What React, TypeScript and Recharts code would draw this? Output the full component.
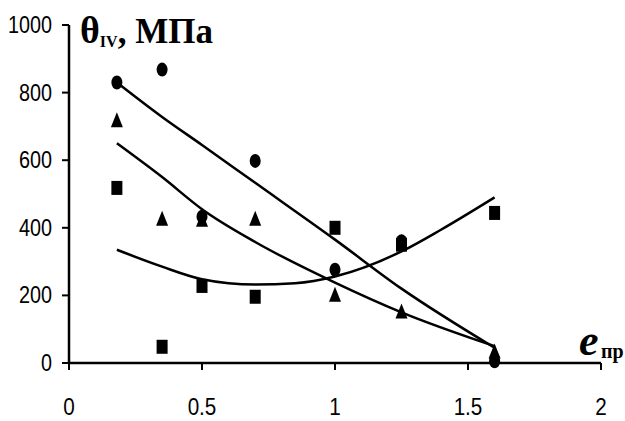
import { ComposedChart, Line, Scatter, XAxis, YAxis } from 'recharts';

// measured points, shared x positions
const pointX = [0.18, 0.35, 0.5, 0.7, 1.0, 1.25, 1.6];
const circleVals = [830, 868, 433, 598, 276, 360, 5];
const triangleVals = [718, 427, 424, 427, 202, 152, 34];
const squareVals = [518, 48, 228, 196, 400, 350, 444];

// trend lines
const circleTrendX = [0.18, 0.35, 0.5, 0.7, 1.0, 1.25, 1.6];
const circleTrendY = [830, 728, 645, 533, 365, 220, 45];
const triangleTrendX = [0.18, 0.35, 0.5, 0.7, 1.0, 1.25, 1.6];
const triangleTrendY = [650, 550, 455, 358, 238, 150, 50];
const squareTrendX = [0.18, 0.35, 0.5, 0.7, 0.85, 1.0, 1.25, 1.4, 1.6];
const squareTrendY = [335, 285, 248, 232, 236, 256, 330, 395, 490];

const xTicks = [0, 0.5, 1, 1.5, 2];
const yTicks = [0, 200, 400, 600, 800, 1000];

const toPoints = (xs: number[], ys: number[]) => xs.map((x, i) => ({ x, y: ys[i] }));

// no narrow font installed, so squeeze Liberation Sans to look like Arial Narrow
const narrowWidth = (s: string, digit: number) =>
  s.split('').reduce((w, c) => w + (c === '.' ? digit * 0.5 : digit), 0);

const narrowText = (x: number, y: number, label: string, anchor: string, fs: number, digit: number) => (
  <text
    x={x}
    y={y}
    textAnchor={anchor}
    fontSize={fs}
    fontFamily="'Liberation Sans', Arial, sans-serif"
    fill="#000"
    textLength={narrowWidth(label, digit)}
    lengthAdjust="spacingAndGlyphs"
  >
    {label}
  </text>
);

const XTick = ({ x, payload }: any) => narrowText(x, 415, String(payload.value), 'middle', 23, 11.5);
const YTick = ({ x, y, payload }: any) => narrowText(x, y + 8, String(payload.value), 'end', 24, 11);

const CircleDot = ({ cx, cy }: any) => <ellipse cx={cx} cy={cy} rx={5.5} ry={7} fill="#000" />;
const TriangleDot = ({ cx, cy }: any) => (
  <path d={`M${cx},${cy - 8} L${cx + 6},${cy + 7} L${cx - 6},${cy + 7} Z`} fill="#000" />
);
const SquareDot = ({ cx, cy }: any) => <rect x={cx - 5.5} y={cy - 7} width={11} height={14} fill="#000" />;

export default function App() {
  const line = { type: 'monotone' as const, dataKey: 'y', stroke: '#000', strokeWidth: 2.5, dot: false, isAnimationActive: false };
  return (
    <div style={{ position: 'absolute', left: 0, top: 0, background: '#fff' }}>
      <ComposedChart width={625} height={421} margin={{ top: 25, right: 24, left: 0, bottom: 0 }}>
        <XAxis
          type="number"
          dataKey="x"
          domain={[0, 2]}
          ticks={xTicks}
          height={58}
          tick={XTick}
          tickSize={7}
          axisLine={{ stroke: '#000', strokeWidth: 2.5 }}
          tickLine={{ stroke: '#000', strokeWidth: 2 }}
        />
        <YAxis
          type="number"
          domain={[0, 1000]}
          ticks={yTicks}
          width={69}
          tick={YTick}
          tickSize={7}
          tickMargin={10}
          axisLine={{ stroke: '#000', strokeWidth: 2.5 }}
          tickLine={{ stroke: '#000', strokeWidth: 2 }}
        />
        <Line {...line} data={toPoints(circleTrendX, circleTrendY)} />
        <Line {...line} data={toPoints(triangleTrendX, triangleTrendY)} />
        <Line {...line} data={toPoints(squareTrendX, squareTrendY)} />
        <Scatter data={toPoints(pointX, squareVals)} dataKey="y" shape={SquareDot} isAnimationActive={false} />
        <Scatter data={toPoints(pointX, triangleVals)} dataKey="y" shape={TriangleDot} isAnimationActive={false} />
        <Scatter data={toPoints(pointX, circleVals)} dataKey="y" shape={CircleDot} isAnimationActive={false} />
        <text x={80} y={43} fontFamily="'Liberation Serif', serif" fontWeight="bold" fontSize={35} fill="#000">
          <tspan fontSize={38}>θ</tspan>
          <tspan fontSize={16} dy={4}>IV</tspan>
          <tspan dy={-4}>, МПа</tspan>
        </text>
        <text x={579} y={355} fontFamily="'Liberation Serif', serif" fontStyle="italic" fontWeight="bold" fontSize={44} fill="#000">
          e
        </text>
        <text x={601} y={358} fontFamily="'Liberation Serif', serif" fontWeight="bold" fontSize={20} fill="#000">
          пр
        </text>
      </ComposedChart>
    </div>
  );
}
